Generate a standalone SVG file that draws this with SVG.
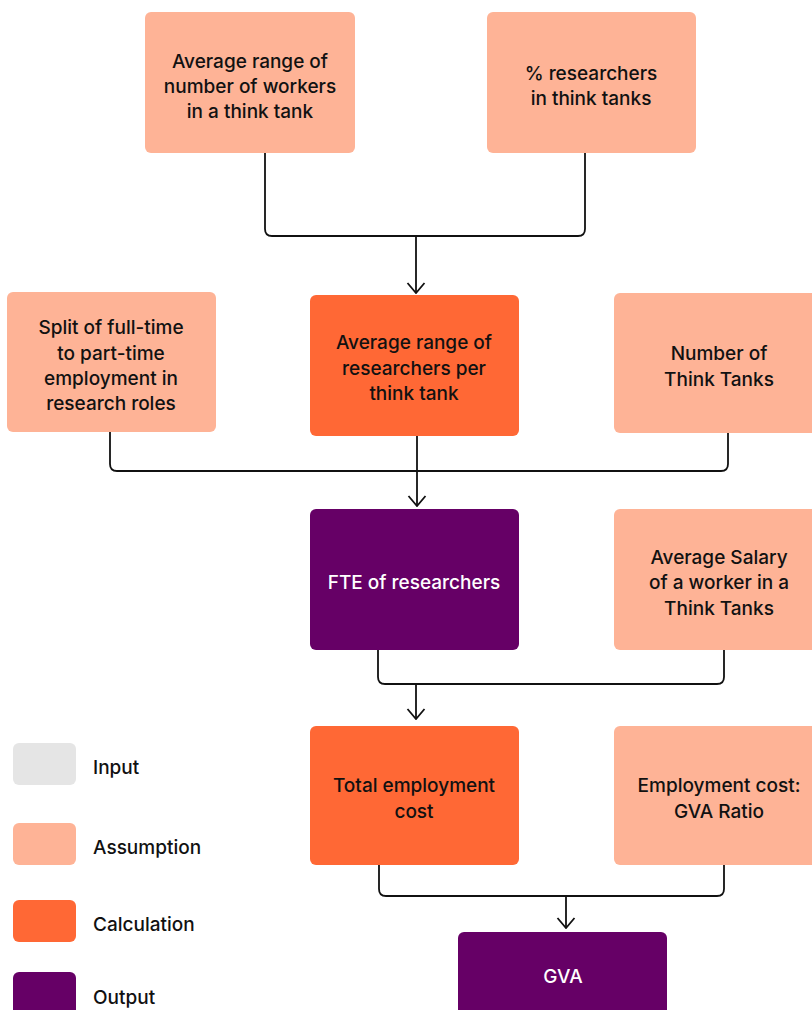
<svg xmlns="http://www.w3.org/2000/svg" width="812" height="1010" viewBox="0 0 812 1010">
  <style>
    .assumption { fill: #FEB396; }
    .calculation { fill: #FF6835; }
    .output { fill: #660066; }
    .input { fill: #E5E5E5; }
    text { font-family: Inter, "Noto Sans", "Liberation Sans", sans-serif; font-size: 19px; font-weight: 500; letter-spacing: 0px; fill: #111111; text-anchor: middle; }
    .light { fill: #FFFFFF; }
    .legend text { text-anchor: start; }
    .wire { fill: none; stroke: #111111; stroke-width: 1.8; }
  </style>
  <defs>
    <!-- open V head, drawn pointing along +x so orient="auto" follows the line -->
    <marker id="arrow" viewBox="0 0 12 20" refX="11" refY="10" markerWidth="12" markerHeight="20" markerUnits="userSpaceOnUse" orient="auto">
      <path d="M1 1.5 L11 10 L1 18.5" fill="none" stroke="#111111" stroke-width="1.8"/>
    </marker>
  </defs>

  <rect width="812" height="1010" fill="#FFFFFF"/>

  <!-- connectors -->
  <g id="connectors">
    <path class="wire" d="M265 153 V229 Q265 236 272 236 H578 Q585 236 585 229 V153"/>
    <path class="wire" d="M416 236 V293" marker-end="url(#arrow)"/>
    <path class="wire" d="M110 432 V464 Q110 471 117 471 H721 Q728 471 728 464 V433"/>
    <path class="wire" d="M417 436 V506" marker-end="url(#arrow)"/>
    <path class="wire" d="M378 650 V677 Q378 684 385 684 H717 Q724 684 724 677 V650"/>
    <path class="wire" d="M416 684 V719" marker-end="url(#arrow)"/>
    <path class="wire" d="M379 865 V889 Q379 896 386 896 H717 Q724 896 724 889 V865"/>
    <path class="wire" d="M566 896 V928" marker-end="url(#arrow)"/>
  </g>

  <!-- row 1 -->
  <g id="workers-per-tank">
    <rect class="assumption" x="145" y="12" width="210" height="141" rx="6"/>
    <text x="250" y="68">Average range of</text>
    <text x="250" y="93">number of  workers</text>
    <text x="250" y="118">in a think tank</text>
  </g>
  <g id="pct-researchers">
    <rect class="assumption" x="487" y="12" width="209" height="141" rx="6"/>
    <text x="591" y="80">% researchers</text>
    <text x="591" y="105">in think tanks</text>
  </g>

  <!-- row 2 -->
  <g id="ft-pt-split">
    <rect class="assumption" x="7" y="292" width="209" height="140" rx="6"/>
    <text x="111" y="334">Split of full-time</text>
    <text x="111" y="360">to part-time</text>
    <text x="111" y="385">employment in</text>
    <text x="111" y="410">research roles</text>
  </g>
  <g id="researchers-per-tank">
    <rect class="calculation" x="310" y="295" width="209" height="141" rx="6"/>
    <text x="414" y="349">Average range of</text>
    <text x="414" y="375">researchers per</text>
    <text x="414" y="400">think tank</text>
  </g>
  <g id="number-of-tanks">
    <rect class="assumption" x="614" y="293" width="210" height="140" rx="6"/>
    <text x="719" y="360">Number of</text>
    <text x="719" y="386">Think Tanks</text>
  </g>

  <!-- row 3 -->
  <g id="fte-researchers">
    <rect class="output" x="310" y="509" width="209" height="141" rx="6"/>
    <text class="light" x="414" y="589">FTE of researchers</text>
  </g>
  <g id="average-salary">
    <rect class="assumption" x="614" y="509" width="210" height="141" rx="6"/>
    <text x="719" y="564">Average Salary</text>
    <text x="719" y="589">of a worker in a</text>
    <text x="719" y="615">Think Tanks</text>
  </g>

  <!-- row 4 -->
  <g id="total-employment-cost">
    <rect class="calculation" x="310" y="726" width="209" height="139" rx="6"/>
    <text x="414" y="792">Total employment</text>
    <text x="414" y="818">cost</text>
  </g>
  <g id="gva-ratio">
    <rect class="assumption" x="614" y="726" width="210" height="139" rx="6"/>
    <text x="719" y="792">Employment cost:</text>
    <text x="719" y="818">GVA Ratio</text>
  </g>

  <!-- row 5 -->
  <g id="gva">
    <rect class="output" x="458" y="932" width="209" height="90" rx="6"/>
    <text class="light" x="563" y="983">GVA</text>
  </g>

  <!-- key -->
  <g id="legend" class="legend">
    <rect class="input" x="13" y="743" width="63" height="42" rx="6"/>
    <text x="93" y="774">Input</text>
    <rect class="assumption" x="13" y="823" width="63" height="42" rx="6"/>
    <text x="93" y="854">Assumption</text>
    <rect class="calculation" x="13" y="900" width="63" height="42" rx="6"/>
    <text x="93" y="931">Calculation</text>
    <rect class="output" x="13" y="972" width="63" height="50" rx="6"/>
    <text x="93" y="1004">Output</text>
  </g>
</svg>
